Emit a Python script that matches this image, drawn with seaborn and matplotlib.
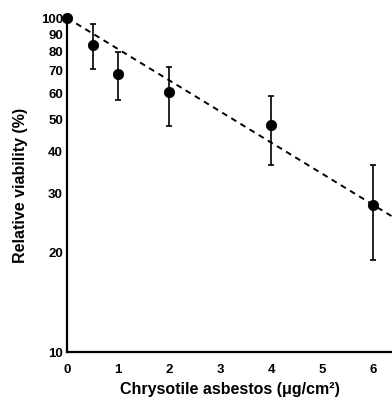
import numpy as np
import pandas as pd
import matplotlib
matplotlib.use('Agg')
import matplotlib.pyplot as plt
import seaborn as sns
from matplotlib.ticker import FixedLocator, NullLocator, FixedFormatter

# data
dose = [0, 0.5, 1, 2, 4, 6]
viability = [100, 83, 68, 60, 47.7, 27.6]
err_low = [100, 70.3, 56.7, 47.4, 36.4, 18.9]
err_high = [100, 96, 79, 71.3, 58.3, 36.4]

fit_x = [0, 6.4]
fit_y = [100, 25.3]

y_ticks = [10, 20, 30, 40, 50, 60, 70, 80, 90, 100]
x_ticks = [0, 1, 2, 3, 4, 5, 6]

df = pd.DataFrame({'dose': dose, 'viability': viability})
fit = pd.DataFrame({'dose': fit_x, 'viability': fit_y})

sns.set_style('white')
plt.rcParams['font.family'] = ['Liberation Sans', 'DejaVu Sans']
plt.rcParams['text.color'] = 'black'
plt.rcParams['axes.labelcolor'] = 'black'
plt.rcParams['xtick.color'] = 'black'
plt.rcParams['ytick.color'] = 'black'

fig = plt.figure(figsize=(3.92, 4.02), dpi=100)
ax = fig.add_axes([0.171, 0.122, 0.829, 0.831])

sns.lineplot(data=fit, x='dose', y='viability', ax=ax, color='black',
             lw=1.4, linestyle=(0, (3, 2.5)))

lo = np.array(viability) - np.array(err_low)
hi = np.array(err_high) - np.array(viability)
ax.errorbar(dose, viability, yerr=[lo, hi], fmt='none', ecolor='black',
            elinewidth=1.2, capsize=2.5, capthick=1.2, clip_on=False)
sns.scatterplot(data=df, x='dose', y='viability', ax=ax, color='black',
                s=55, edgecolor='black', zorder=5, clip_on=False)

ax.set_yscale('log')
ax.set_ylim(10, 100)
ax.set_xlim(0, 6.37)
ax.yaxis.set_major_locator(FixedLocator(y_ticks))
ax.yaxis.set_major_formatter(FixedFormatter([str(t) for t in y_ticks]))
ax.yaxis.set_minor_locator(NullLocator())
ax.set_xticks(x_ticks)

for s in ['top', 'right']:
    ax.spines[s].set_visible(False)
for s in ['left', 'bottom']:
    ax.spines[s].set_linewidth(1.6)
    ax.spines[s].set_color('black')

ax.tick_params(axis='y', length=0, pad=3, labelsize=9.5)
ax.tick_params(axis='x', length=3, width=1, direction='out', pad=5, labelsize=9.5)
for lab in ax.get_xticklabels() + ax.get_yticklabels():
    lab.set_fontweight('bold')

ax.set_xlabel('Chrysotile asbestos (μg/cm²)', fontsize=11.5, fontweight='bold', labelpad=4)
ax.set_ylabel('Relative viability (%)', fontsize=11.5, fontweight='bold', labelpad=9)

plt.savefig('out.png', dpi=100, facecolor='white')
